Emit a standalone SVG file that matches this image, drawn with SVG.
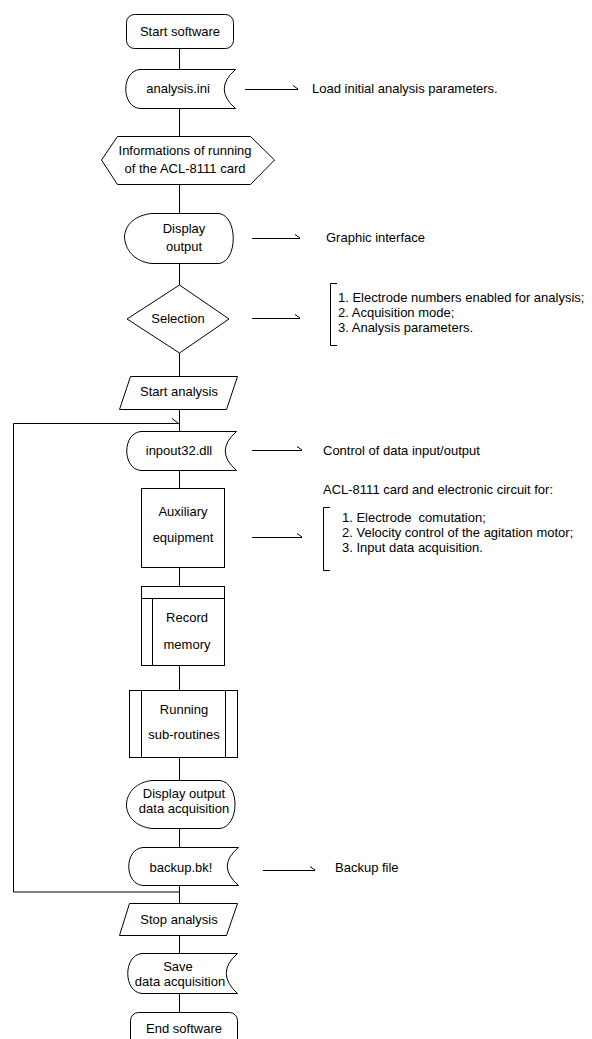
<svg xmlns="http://www.w3.org/2000/svg" width="592" height="1039" viewBox="0 0 592 1039">
<style>
.s{fill:#fff;stroke:#000;stroke-width:1}
.l{fill:none;stroke:#000;stroke-width:1}
text{font-family:"Liberation Sans",Arial,sans-serif;font-size:13px;fill:#000}
.c{text-anchor:middle}
</style>
<rect width="592" height="1039" fill="#fff"/>
<g id="connectors">
<path class="l" d="M179.5,48V69M179.5,108V136M179.5,184V213M179.5,263V285M179.5,353V376M179.5,409V431M179.5,470V488M179.5,568V586M179.5,666V690M179.5,757V780M179.5,828V847M179.5,885V903M179.5,935V953M179.5,993V1012"/>
<path class="l" d="M179.5,892H13.5V423.5H179.5M172,418.5L178,423"/>
<path class="l" d="M245,89.5H298M293,85.5L298,89"/>
<path class="l" d="M252,238.5H300M295,234.5L300,238"/>
<path class="l" d="M252,318.5H300M295,314.5L300,318"/>
<path class="l" d="M252,450.5H302M297,446.5L302,450"/>
<path class="l" d="M252,537.5H302M297,533.5L302,537"/>
<path class="l" d="M263,870.5H315M310,866.5L315,870"/>
</g>
<g id="start"><rect class="s" x="126.5" y="14.5" width="107" height="34" rx="8"/><text class="c" x="180" y="36">Start software</text></g>
<g id="analysis-ini"><path class="s" d="M140,69.5H235.5Q213,89 235.5,108.5H140C121,107 121,71 140,69.5Z"/><text class="c" x="178" y="93">analysis.ini</text></g>
<g id="load-params"><text x="312" y="93">Load initial analysis parameters.</text></g>
<g id="acl-info"><polygon class="s" points="101.5,160 117.5,136.5 250.5,136.5 274.5,160 250.5,184.5 117.5,184.5"/><text class="c" x="185" y="155">Informations of running</text><text class="c" x="185" y="173">of the ACL-8111 card</text></g>
<g id="display-output"><path class="s" d="M152,213.5H219C238,216 238,261 219,263.5H152C135,262 125,250 124.5,237C125,224 136,215 152,213.5Z"/><text class="c" x="184" y="233">Display</text><text class="c" x="184" y="251">output</text></g>
<g id="graphic-interface"><text x="326" y="242">Graphic interface</text></g>
<g id="selection"><polygon class="s" points="179.5,285 229,319 179.5,353 127,319"/><text class="c" x="178" y="323">Selection</text></g>
<g id="selection-list"><path class="l" d="M337,283.5H330.5V345.5H337"/><text x="338" y="302">1. Electrode numbers enabled for analysis;</text><text x="338" y="317">2. Acquisition mode;</text><text x="338" y="332">3. Analysis parameters.</text></g>
<g id="start-analysis"><polygon class="s" points="130.5,376.5 237.5,376.5 226.5,409.5 119.5,409.5"/><text class="c" x="179" y="396">Start analysis</text></g>
<g id="inpout"><path class="s" d="M141,431.5H236.5Q214,451 236.5,470.5H141C122,469 122,433 141,431.5Z"/><text class="c" x="179" y="455">inpout32.dll</text></g>
<g id="control-io"><text x="323" y="455">Control of data input/output</text></g>
<g id="auxiliary"><rect class="s" x="141.5" y="488.5" width="83" height="79"/><text class="c" x="183" y="516">Auxiliary</text><text class="c" x="183" y="542">equipment</text></g>
<g id="acl-card"><text x="323" y="494">ACL-8111 card and electronic circuit for:</text><path class="l" d="M330,507.5H323.5V570.5H330"/><text x="342" y="522" xml:space="preserve">1. Electrode  comutation;</text><text x="342" y="537">2. Velocity control of the agitation motor;</text><text x="342" y="552">3. Input data acquisition.</text></g>
<g id="record-memory"><rect class="s" x="141.5" y="586.5" width="83" height="79"/><path class="l" d="M141.5,598.5H224.5M152.5,598.5V665.5"/><text class="c" x="187" y="622">Record</text><text class="c" x="187" y="649">memory</text></g>
<g id="running"><rect class="s" x="129.5" y="690.5" width="108" height="67"/><path class="l" d="M141.5,690.5V757.5M225.5,690.5V757.5"/><text class="c" x="184" y="714">Running</text><text class="c" x="184" y="739">sub-routines</text></g>
<g id="display-acq"><path class="s" d="M152,780.5H220C240,783 240,826 220,828.5H152C136,827 126,816 126.5,804C127,792 137,782 152,780.5Z"/><text class="c" x="184" y="798">Display output</text><text class="c" x="184" y="813">data acquisition</text></g>
<g id="backup"><path class="s" d="M143,847.5H238.5Q216,866 238.5,885.5H143C124,884 124,849 143,847.5Z"/><text class="c" x="181" y="872">backup.bk!</text></g>
<g id="backup-file"><text x="335" y="872">Backup file</text></g>
<g id="stop-analysis"><polygon class="s" points="129.5,903.5 237.5,903.5 226.5,935.5 119.5,935.5"/><text class="c" x="179" y="924">Stop analysis</text></g>
<g id="save"><path class="s" d="M142,953.5H237.5Q215,973 237.5,993.5H142C123,992 123,955 142,953.5Z"/><text class="c" x="178" y="971">Save</text><text class="c" x="180" y="986">data acquisition</text></g>
<g id="end"><rect class="s" x="130.5" y="1012.5" width="107" height="40" rx="8"/><text class="c" x="184" y="1033">End software</text></g>
</svg>
